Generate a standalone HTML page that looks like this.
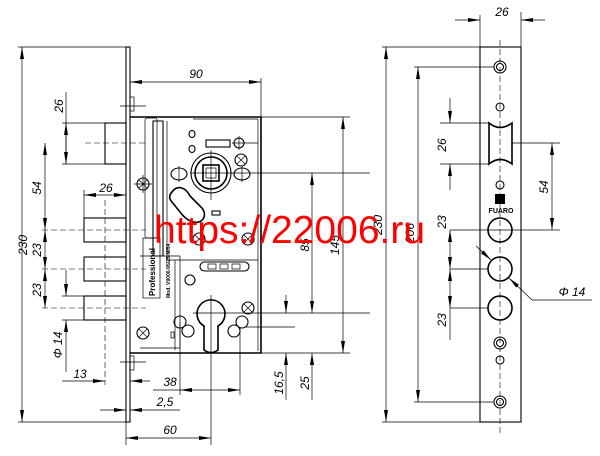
<!DOCTYPE html>
<html><head><meta charset="utf-8"><style>
html,body{margin:0;padding:0;background:#fff;}
svg{display:block;font-family:"Liberation Sans",sans-serif;}
.t{stroke:#000;stroke-width:0.7;fill:none}
.h{stroke:#000;stroke-width:1.6;fill:none}
.m{stroke:#000;stroke-width:1.1;fill:none}
.d{stroke:#000;stroke-width:0.6;fill:none;stroke-dasharray:6 3}
.tx{font-size:12px;font-style:italic;fill:#000}
</style></head><body>
<svg width="600" height="456" viewBox="0 0 600 456" xmlns="http://www.w3.org/2000/svg">
<defs>
<marker id="a" viewBox="0 0 12 4" refX="12" refY="2" markerWidth="12" markerHeight="4" orient="auto-start-reverse" markerUnits="userSpaceOnUse"><path d="M0,0 L12,2 L0,4 z" fill="#000"/></marker>
</defs>

<!-- ===== LEFT VIEW ===== -->
<!-- faceplate -->
<rect x="126" y="47" width="4" height="375" class="m"/>
<!-- body -->
<path d="M130,117 H261 V353 H130" class="h"/>
<line x1="258" y1="119" x2="258" y2="351" class="t"/>
<line x1="193" y1="119" x2="258" y2="119" class="t"/>
<!-- inner plates -->
<path d="M153,121 h10 v135 h-10 z" class="m"/>
<path d="M167,121 V260 H258" class="t"/>
<path d="M140,256 H180 V348 H140" class="t"/>
<path d="M175,260 V350" class="t"/>
<rect x="145" y="118" width="12" height="120" class="t" rx="2"/>
<!-- Professional label -->
<rect x="143" y="238" width="17" height="60" class="t"/>
<text transform="translate(155,296) rotate(-90)" font-size="8" font-weight="bold">Professional</text>
<text transform="translate(170,298) rotate(-90)" font-size="5" font-weight="bold">Mod. V9000-95/25-M/54</text>
<!-- upper latch -->
<rect x="105" y="123" width="21" height="41" class="m"/>
<line x1="85" y1="143" x2="146" y2="143" class="d"/>
<!-- bolts -->
<rect x="84" y="218" width="42" height="24" class="m"/>
<rect x="84" y="257" width="42" height="24" class="m"/>
<rect x="84" y="296" width="42" height="24" class="m"/>
<line x1="42" y1="230" x2="146" y2="230" class="d"/>
<line x1="42" y1="269" x2="146" y2="269" class="d"/>
<line x1="42" y1="308" x2="146" y2="308" class="d"/>
<line x1="105" y1="200" x2="105" y2="385" class="d"/>
<!-- faceplate screws -->
<rect x="130" y="97" width="4" height="14" class="t"/>
<line x1="120" y1="106" x2="146" y2="106" class="t"/>
<rect x="130" y="356" width="4" height="14" class="t"/>
<line x1="120" y1="362" x2="146" y2="362" class="t"/>
<!-- screws -->
<g class="m">
<circle cx="143" cy="184" r="6"/><circle cx="143" cy="333" r="6"/>
<circle cx="241" cy="160" r="6"/><circle cx="248" cy="239" r="6"/><circle cx="199" cy="239" r="6"/><circle cx="248" cy="308" r="6"/>
</g>
<g class="t">
<path d="M139,180l8,8M147,180l-8,8M139,329l8,8M147,329l-8,8M237,156l8,8M245,156l-8,8M244,235l8,8M252,235l-8,8M195,235l8,8M203,235l-8,8M244,304l8,8M252,304l-8,8"/>
<line x1="134" y1="184" x2="152" y2="184"/><line x1="143" y1="175" x2="143" y2="193"/>
</g>
<!-- small holes -->
<ellipse cx="192" cy="134" rx="3" ry="3.5" class="m"/>
<ellipse cx="192" cy="149" rx="3" ry="3.5" class="m"/>
<rect x="206" y="140" width="24" height="7" class="m"/>
<circle cx="239" cy="143" r="5" class="m"/>
<line x1="232" y1="143" x2="258" y2="143" class="t"/>
<line x1="239" y1="136" x2="239" y2="150" class="t"/>
<!-- spindle -->
<circle cx="211" cy="173" r="20" class="m"/>
<circle cx="211" cy="173" r="16" class="h"/>
<rect x="203" y="165" width="16" height="16" class="h"/>
<rect x="206" y="168" width="10" height="10" class="t"/>
<line x1="211" y1="150" x2="211" y2="200" class="t"/>
<line x1="190" y1="173" x2="370" y2="173" class="t"/>
<!-- ovals beside spindle -->
<ellipse cx="179" cy="174" rx="8" ry="6" class="m"/>
<ellipse cx="242" cy="174" rx="8" ry="6" class="m"/>
<line x1="179" y1="166" x2="179" y2="182" class="t"/>
<line x1="242" y1="166" x2="242" y2="182" class="t"/>
<!-- kidney slot -->
<path d="M172,192 c6,-8 14,-4 18,4 l12,12 c6,8 0,16 -8,14 c-6,-1 -10,-5 -14,-10 l-8,-10 c-4,-4 -2,-8 0,-10 z" class="h"/>
<rect x="212" y="211" width="8" height="4" class="m"/>
<!-- middle slot -->
<rect x="200" y="262" width="49" height="9" rx="4.5" class="m"/>
<rect x="208" y="264" width="8" height="5" class="t"/><rect x="220" y="264" width="8" height="5" class="t"/><rect x="232" y="264" width="8" height="5" class="t"/>
<circle cx="190" cy="280" r="5" class="m"/>
<!-- cylinder -->
<path d="M204,326 A14,14 0 1 1 218,326 L218,350 Q211,355 204,350 Z" class="h"/>
<line x1="193" y1="313" x2="370" y2="313" class="t"/>
<line x1="211" y1="295" x2="211" y2="445" class="t"/>
<!-- figure-8 holes -->
<g class="m"><circle cx="180" cy="322" r="6"/><circle cx="188" cy="331" r="6"/><circle cx="242" cy="322" r="6"/><circle cx="234" cy="331" r="6"/></g>
<line x1="180" y1="322" x2="180" y2="395" class="t"/>
<line x1="240" y1="327" x2="240" y2="395" class="t"/>
<line x1="246" y1="327" x2="295" y2="327" class="t"/>
<rect x="171" y="332" width="3" height="6" class="t"/>

<!-- dimensions left -->
<g class="t">
<line x1="18" y1="47" x2="128" y2="47"/><line x1="18" y1="422" x2="128" y2="422"/>
<line x1="22" y1="47" x2="22" y2="422" marker-start="url(#a)" marker-end="url(#a)"/>
<line x1="130" y1="78" x2="130" y2="97"/><line x1="261" y1="78" x2="261" y2="117"/>
<line x1="130" y1="82" x2="261" y2="82" marker-start="url(#a)" marker-end="url(#a)"/>
<line x1="62" y1="123" x2="105" y2="123"/><line x1="62" y1="164" x2="105" y2="164"/>
<line x1="66" y1="92" x2="66" y2="164" marker-end="url(#a)"/>
<line x1="66" y1="123" x2="66" y2="164" marker-start="url(#a)"/>
<line x1="45" y1="143" x2="45" y2="230" marker-start="url(#a)" marker-end="url(#a)"/>
<line x1="45" y1="230" x2="45" y2="269" marker-start="url(#a)" marker-end="url(#a)"/>
<line x1="45" y1="269" x2="45" y2="308" marker-start="url(#a)" marker-end="url(#a)"/>
<line x1="84" y1="190" x2="84" y2="218"/>
<line x1="84" y1="195" x2="126" y2="195" marker-start="url(#a)" marker-end="url(#a)"/>
<line x1="62" y1="296" x2="84" y2="296"/><line x1="62" y1="320" x2="84" y2="320"/>
<line x1="66" y1="270" x2="66" y2="296" marker-end="url(#a)"/>
<line x1="66" y1="320" x2="66" y2="372" marker-start="url(#a)"/>
<line x1="62" y1="381" x2="105" y2="381" marker-end="url(#a)"/>
<line x1="130" y1="381" x2="150" y2="381" marker-start="url(#a)"/>
<line x1="153" y1="390" x2="180" y2="390"/>
<line x1="180" y1="390" x2="240" y2="390" marker-start="url(#a)" marker-end="url(#a)"/>
<line x1="100" y1="410" x2="126" y2="410" marker-end="url(#a)"/>
<line x1="130" y1="410" x2="180" y2="410" marker-start="url(#a)"/>
<line x1="126" y1="422" x2="126" y2="445"/>
<line x1="126" y1="438" x2="211" y2="438" marker-start="url(#a)" marker-end="url(#a)"/>
<line x1="261" y1="117" x2="350" y2="117"/><line x1="261" y1="353" x2="350" y2="353"/>
<line x1="343" y1="117" x2="343" y2="353" marker-start="url(#a)" marker-end="url(#a)"/>
<line x1="312" y1="173" x2="312" y2="313" marker-start="url(#a)" marker-end="url(#a)"/>
<line x1="312" y1="353" x2="312" y2="400" marker-start="url(#a)"/>
<line x1="286" y1="295" x2="286" y2="313" marker-end="url(#a)"/>
<line x1="286" y1="353" x2="286" y2="400" marker-start="url(#a)"/>
</g>
<g class="tx">
<text transform="translate(27,245) rotate(-90)" text-anchor="middle">230</text>
<text x="196" y="78" text-anchor="middle">90</text>
<text transform="translate(63,106) rotate(-90)" text-anchor="middle">26</text>
<text transform="translate(41,188) rotate(-90)" text-anchor="middle">54</text>
<text x="106" y="192" text-anchor="middle">26</text>
<text transform="translate(41,250) rotate(-90)" text-anchor="middle">23</text>
<text transform="translate(41,290) rotate(-90)" text-anchor="middle">23</text>
<text transform="translate(62,345) rotate(-90)" text-anchor="middle">Φ 14</text>
<text x="80" y="378" text-anchor="middle">13</text>
<text x="170" y="386" text-anchor="middle">38</text>
<text x="165" y="406" text-anchor="middle">2,5</text>
<text x="170" y="434" text-anchor="middle">60</text>
<text transform="translate(283,383) rotate(-90)" text-anchor="middle">16,5</text>
<text transform="translate(309,383) rotate(-90)" text-anchor="middle">25</text>
<text transform="translate(309,245) rotate(-90)" text-anchor="middle">85</text>
<text transform="translate(339,245) rotate(-90)" text-anchor="middle">145</text>
</g>

<!-- ===== RIGHT VIEW ===== -->
<rect x="480" y="47" width="41" height="375" class="m"/>
<line x1="500" y1="40" x2="500" y2="435" class="d"/>
<g class="m">
<circle cx="500" cy="67" r="6"/><circle cx="500" cy="67" r="3.5"/>
<circle cx="500" cy="343" r="6"/><circle cx="500" cy="343" r="3.5"/>
<circle cx="500" cy="402" r="6"/><circle cx="500" cy="402" r="3.5"/>
<circle cx="500" cy="107" r="4"/><circle cx="500" cy="185" r="4"/><circle cx="500" cy="360" r="4"/>
</g>
<path d="M489,123 Q500,132 512,123 V164 Q500,155 489,164 Z" class="h"/>
<rect x="495" y="194" width="10" height="10" fill="#000"/>
<text x="501" y="213" font-size="7" font-weight="bold" text-anchor="middle">FUARO</text>
<g class="h"><circle cx="500" cy="230" r="12"/><circle cx="500" cy="269" r="12"/><circle cx="500" cy="308" r="12"/></g>
<g class="t">
<line x1="480" y1="15" x2="480" y2="47"/><line x1="521" y1="12" x2="521" y2="47"/>
<line x1="455" y1="20" x2="480" y2="20" marker-end="url(#a)"/>
<line x1="521" y1="20" x2="545" y2="20" marker-start="url(#a)"/>
<line x1="382" y1="47" x2="480" y2="47"/><line x1="382" y1="422" x2="480" y2="422"/>
<line x1="386" y1="47" x2="386" y2="422" marker-start="url(#a)" marker-end="url(#a)"/>
<line x1="414" y1="67" x2="494" y2="67"/><line x1="414" y1="402" x2="494" y2="402"/>
<line x1="418" y1="67" x2="418" y2="402" marker-start="url(#a)" marker-end="url(#a)"/>
<line x1="440" y1="123" x2="489" y2="123"/><line x1="440" y1="164" x2="489" y2="164"/>
<line x1="450" y1="98" x2="450" y2="123" marker-end="url(#a)"/>
<line x1="450" y1="164" x2="450" y2="190" marker-start="url(#a)"/>
<line x1="512" y1="143" x2="560" y2="143"/>
<line x1="450" y1="230" x2="560" y2="230"/>
<line x1="450" y1="269" x2="488" y2="269"/>
<line x1="450" y1="308" x2="488" y2="308"/>
<line x1="552" y1="143" x2="552" y2="230" marker-start="url(#a)" marker-end="url(#a)"/>
<line x1="450" y1="230" x2="450" y2="269" marker-start="url(#a)" marker-end="url(#a)"/>
<line x1="450" y1="269" x2="450" y2="308" marker-start="url(#a)" marker-end="url(#a)"/>
<line x1="450" y1="308" x2="450" y2="340"/>
<line x1="476" y1="246" x2="491" y2="260" marker-end="url(#a)"/>
<line x1="509" y1="278" x2="532" y2="300" marker-start="url(#a)"/>
<line x1="532" y1="300" x2="592" y2="300"/>
</g>
<g class="tx">
<text x="502" y="16" text-anchor="middle">26</text>
<text transform="translate(382,225) rotate(-90)" text-anchor="middle">230</text>
<text transform="translate(414,233) rotate(-90)" text-anchor="middle">206</text>
<text transform="translate(446,145) rotate(-90)" text-anchor="middle">26</text>
<text transform="translate(446,222) rotate(-90)" text-anchor="middle">23</text>
<text transform="translate(446,320) rotate(-90)" text-anchor="middle">23</text>
<text transform="translate(548,187) rotate(-90)" text-anchor="middle">54</text>
<text x="572" y="296" text-anchor="middle">Φ 14</text>
</g>

<!-- watermark -->
<text x="154" y="243" font-size="39" fill="#ff0000" style="font-style:normal">https://22006.ru</text>
</svg>
</body></html>
